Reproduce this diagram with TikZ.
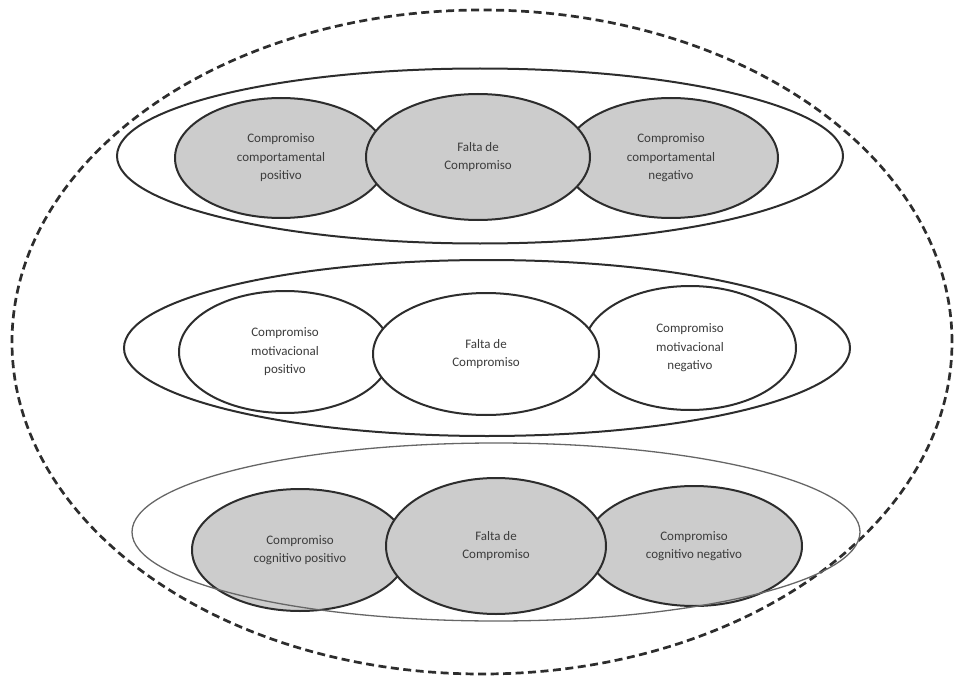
\documentclass[tikz,border=0pt]{standalone}
\usepackage{fontspec}
\setmainfont{Carlito}
\usetikzlibrary{shapes.geometric}
\definecolor{fillg}{RGB}{204,204,204}
\definecolor{txt}{RGB}{60,60,60}
\definecolor{lin}{RGB}{45,45,45}
\tikzset{
  outerdash/.style={draw=lin,line width=2.7pt,dash pattern=on 8pt off 4.5pt,ellipse,inner sep=0pt},
  rowbox/.style={draw=lin,line width=2pt,ellipse,inner sep=0pt},
  rowthin/.style={draw=black!60,line width=1.3pt,ellipse,inner sep=0pt},
  bubble/.style={draw=lin,line width=2pt,ellipse,inner sep=0pt,align=center,
     font=\fontsize{13}{18.5}\selectfont,text=txt},
  grayb/.style={bubble,fill=fillg},
  whiteb/.style={bubble,fill=white},
}
\begin{document}
\begin{tikzpicture}[x=1pt,y=-1pt]
\useasboundingbox (0,0) rectangle (954,677);
% outer dashed
\node[outerdash,minimum width=940pt,minimum height=664pt] (all) at (482,342) {};
% row 1
\node[rowbox,minimum width=726pt,minimum height=175pt] (r1) at (480,156) {};
\node[grayb,minimum width=212pt,minimum height=120pt] (r1l) at (281,158) {Compromiso\\comportamental\\positivo};
\node[grayb,minimum width=214pt,minimum height=120pt] (r1r) at (671,158) {Compromiso\\comportamental\\negativo};
\node[grayb,minimum width=224pt,minimum height=126pt] (r1m) at (478,157) {Falta de\\Compromiso};
% row 2
\node[rowbox,minimum width=726pt,minimum height=176pt] (r2) at (487,348) {};
\node[whiteb,minimum width=212pt,minimum height=122pt] (r2l) at (285,352) {Compromiso\\motivacional\\positivo};
\node[whiteb,minimum width=212pt,minimum height=124pt] (r2r) at (690,348) {Compromiso\\motivacional\\negativo};
\node[whiteb,minimum width=226pt,minimum height=122pt] (r2m) at (486,354) {Falta de\\Compromiso};
% row 3
\node[grayb,minimum width=216pt,minimum height=122pt] (r3l) at (300,550) {Compromiso\\cognitivo positivo};
\node[grayb,minimum width=216pt,minimum height=120pt] (r3r) at (694,546) {Compromiso\\cognitivo negativo};
\node[grayb,minimum width=220pt,minimum height=136pt] (r3m) at (496,546) {Falta de\\Compromiso};
\node[rowthin,minimum width=728pt,minimum height=178pt] (r3) at (496,532) {};
\end{tikzpicture}
\end{document}
